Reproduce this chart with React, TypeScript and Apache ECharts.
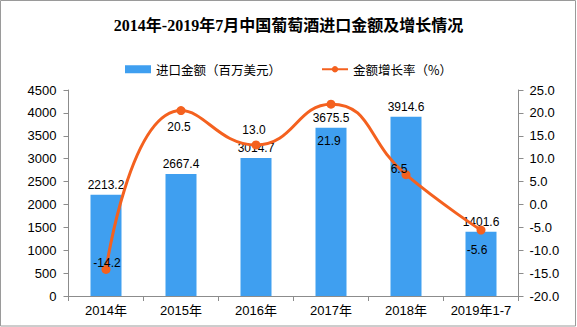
import React, { useEffect, useRef } from "react";
import * as echarts from "echarts";

const categories = ["2014年", "2015年", "2016年", "2017年", "2018年", "2019年1-7"];
const importValues = [2213.2, 2667.4, 3014.7, 3675.5, 3914.6, 1401.6];
const growthRates = [-14.2, 20.5, 13.0, 21.9, 6.5, -5.6];
const leftTicks = { min: 0, max: 4500, interval: 500 };
const rightTicks = { min: -20, max: 25, interval: 5 };

// label offsets (styling) for line labels, relative to point centre
const lineLabelOffsets: [number, number][] = [
  [1, -6],
  [-2, 16],
  [-2, -15],
  [-2, 37],
  [-7, -6],
  [-4, 20],
];

const NUM_FONT = "'Liberation Sans', 'Noto Sans CJK SC', sans-serif";
const CJK_FONT = "'Noto Sans CJK SC', 'Liberation Sans', sans-serif";

export default function App() {
  const ref = useRef<HTMLDivElement>(null);
  useEffect(() => {
    document.body.style.margin = "0";
    if (!ref.current) return;
    const chart = echarts.init(ref.current, undefined, { renderer: "svg" });
    const axisLine = { show: true, lineStyle: { color: "#8c8c8c", width: 1 } };
    chart.setOption({
      animation: false,
      backgroundColor: "#ffffff",
      title: {
        text: "2014年-2019年7月中国葡萄酒进口金额及增长情况",
        left: "center",
        top: 12,
        textStyle: {
          fontSize: 16,
          fontWeight: "bold",
          color: "#000",
          fontFamily: "'Liberation Serif', 'Noto Sans CJK SC', serif",
        },
      },
      legend: {
        top: 58,
        left: "center",
        itemGap: 40,
        itemWidth: 26,
        itemHeight: 8,
        textStyle: { fontSize: 12.5, color: "#000", fontFamily: CJK_FONT },
        data: [
          { name: "进口金额（百万美元）", icon: "rect" },
          { name: "金额增长率（%）" },
        ],
      },
      graphic: [
        {
          type: "rect",
          shape: { x: 0.5, y: 0.5, width: 575, height: 325.5 },
          style: { fill: "none", stroke: "#9a9a9a", lineWidth: 1 },
          silent: true,
        },
      ],
      grid: { left: 68.5, right: 58.5, top: 90, bottom: 31 },
      xAxis: {
        type: "category",
        data: categories,
        axisLine,
        axisTick: { show: true, length: 5, lineStyle: { color: "#8c8c8c" } },
        axisLabel: {
          color: "#000",
          fontSize: 13,
          margin: 8,
          interval: 0,
          fontFamily: NUM_FONT,
        },
      },
      yAxis: [
        {
          type: "value",
          min: leftTicks.min,
          max: leftTicks.max,
          interval: leftTicks.interval,
          axisLine,
          axisTick: { show: true, length: 5, lineStyle: { color: "#8c8c8c" } },
          splitLine: { show: false },
          axisLabel: {
            color: "#000",
            fontSize: 13,
            margin: 12,
            fontFamily: NUM_FONT,
            formatter: (v: number) => String(v),
          },
        },
        {
          type: "value",
          min: rightTicks.min,
          max: rightTicks.max,
          interval: rightTicks.interval,
          position: "right",
          axisLine,
          axisTick: { show: true, length: 5, lineStyle: { color: "#8c8c8c" } },
          splitLine: { show: false },
          axisLabel: {
            color: "#000",
            fontSize: 13,
            margin: 11,
            fontFamily: NUM_FONT,
            formatter: (v: number) => v.toFixed(1),
          },
        },
      ],
      series: [
        {
          name: "进口金额（百万美元）",
          type: "bar",
          data: importValues,
          barWidth: 31,
          itemStyle: { color: "#3f9ff0" },
          label: {
            show: true,
            position: "top",
            distance: 4,
            color: "#000",
            fontSize: 12,
            fontFamily: NUM_FONT,
            formatter: (p: any) => Number(p.value).toFixed(1),
          },
        },
        {
          name: "金额增长率（%）",
          type: "line",
          yAxisIndex: 1,
          smooth: 0.5,
          symbol: "circle",
          symbolSize: 9,
          lineStyle: { color: "#f4611f", width: 3 },
          itemStyle: { color: "#f4611f" },
          data: growthRates.map((v, i) => ({
            value: v,
            label: { offset: lineLabelOffsets[i] },
          })),
          label: {
            show: true,
            position: "inside",
            color: "#000",
            fontSize: 12,
            fontFamily: NUM_FONT,
            formatter: (p: any) => Number(p.value).toFixed(1),
          },
          z: 3,
        },
      ],
    });
    return () => chart.dispose();
  }, []);
  return (
    <div
      ref={ref}
      style={{ position: "absolute", left: 0, top: 0, width: 577, height: 327 }}
    />
  );
}
